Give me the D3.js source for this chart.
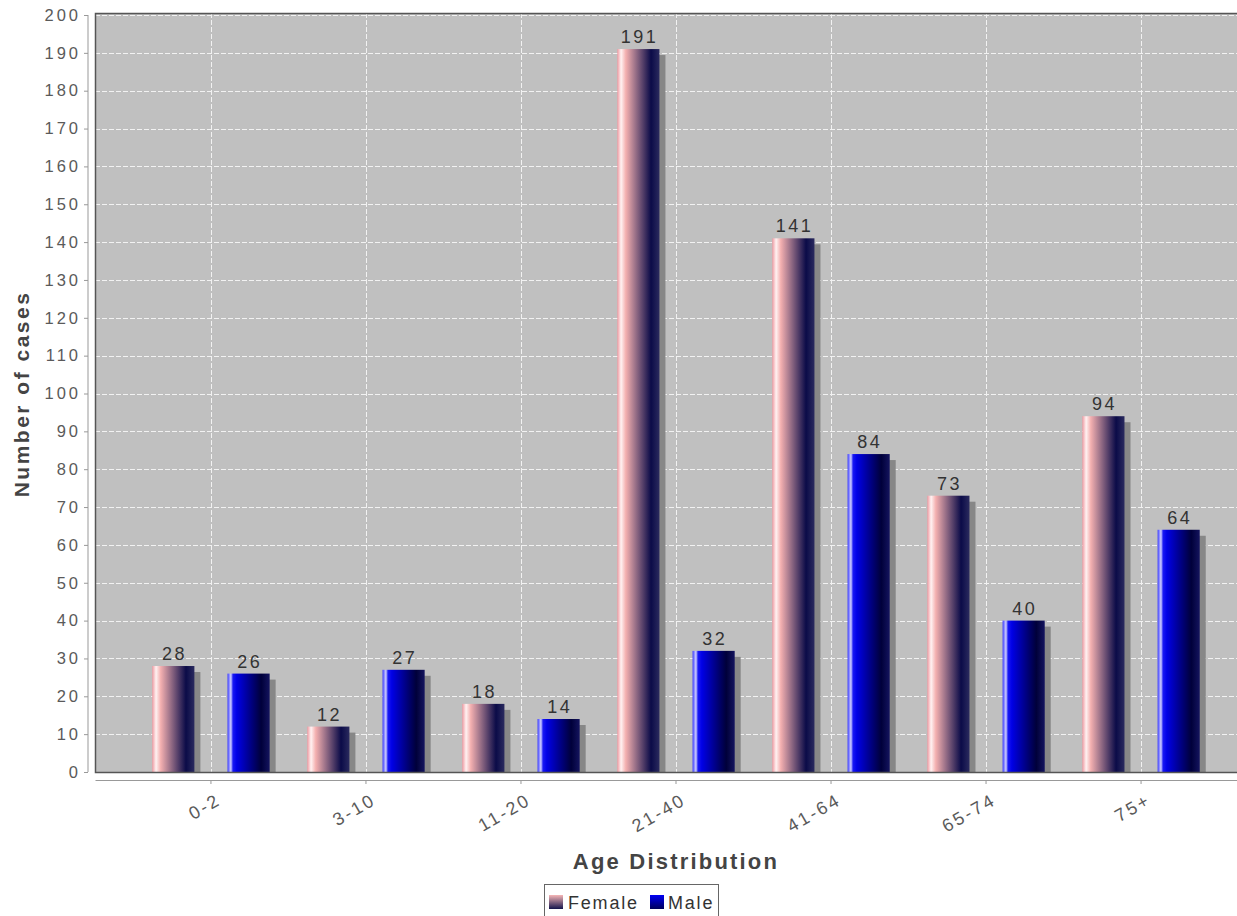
<!DOCTYPE html>
<html>
<head>
<meta charset="utf-8">
<script src="https://cdn.jsdelivr.net/npm/d3@7/dist/d3.min.js"></script>
<style>
  html, body { margin: 0; padding: 0; background: #ffffff; }
  svg { display: block; font-family: "Liberation Sans", Arial, sans-serif; }
</style>
</head>
<body>
<svg id="chart" width="1237" height="916"></svg>
<script>
// Age groups on the category axis
const categories = ["0-2", "3-10", "11-20", "21-40", "41-64", "65-74", "75+"];
// Cases per age group
const female = [28, 12, 18, 191, 141, 73, 94];
const male = [26, 27, 14, 32, 84, 40, 64];
const seriesNames = ["Female", "Male"];
// Value axis ticks
const yTicks = [0, 10, 20, 30, 40, 50, 60, 70, 80, 90, 100, 110, 120, 130, 140, 150, 160, 170, 180, 190, 200];

const svg = d3.select("#chart");

const plot = { left: 95, top: 13, right: 1257, bottom: 772 };

const x = d3.scaleBand()
  .domain(categories)
  .range([plot.left, plot.right])
  .paddingInner(0)
  .paddingOuter(0.248);

const xSub = d3.scaleBand()
  .domain(seriesNames)
  .range([0, x.bandwidth()])
  .paddingInner(0.44)
  .paddingOuter(0.25);

const y = d3.scaleLinear().domain([0, 200]).range([plot.bottom, plot.top + 2]);

// Gradients for the bar faces (horizontal) and legend swatches (vertical)
const defs = svg.append("defs");
const gradients = {
  Female: [[0, "#f09aa2"], [0.09, "#fff2f2"], [0.2, "#f4b0b0"], [0.8, "#0b0b48"], [1, "#2a2a5e"]],
  Male: [[0, "#3a3aff"], [0.08, "#d0d0ff"], [0.13, "#1818f4"], [0.22, "#0000e6"], [0.8, "#00003a"], [1, "#14145e"]]
};
const swatchGradients = {
  Female: [[0, "#f6b6b6"], [1, "#14144c"]],
  Male: [[0, "#0000f4"], [1, "#00005a"]]
};
Object.entries(gradients).forEach(([name, stops]) => {
  const g = defs.append("linearGradient")
    .attr("id", "grad-" + name)
    .attr("x1", "0%").attr("x2", "100%").attr("y1", "0%").attr("y2", "0%");
  stops.forEach(([o, c]) => g.append("stop").attr("offset", o * 100 + "%").attr("stop-color", c));
});
Object.entries(swatchGradients).forEach(([name, stops]) => {
  const g = defs.append("linearGradient")
    .attr("id", "swatch-" + name)
    .attr("x1", "0%").attr("x2", "0%").attr("y1", "0%").attr("y2", "100%");
  stops.forEach(([o, c]) => g.append("stop").attr("offset", o * 100 + "%").attr("stop-color", c));
});
const clip = defs.append("clipPath").attr("id", "plot-clip");
clip.append("rect").attr("x", plot.left).attr("y", plot.top)
  .attr("width", plot.right - plot.left).attr("height", plot.bottom - plot.top);

// Plot background
svg.append("rect")
  .attr("x", plot.left).attr("y", plot.top)
  .attr("width", plot.right - plot.left).attr("height", plot.bottom - plot.top)
  .attr("fill", "#c0c0c0");

// Grid lines
const grid = svg.append("g").attr("clip-path", "url(#plot-clip)");
grid.selectAll("line.h").data(yTicks.filter(d => d > 0)).join("line")
  .attr("class", "h")
  .attr("x1", plot.left).attr("x2", plot.right)
  .attr("y1", d => Math.round(y(d)) + 0.5).attr("y2", d => Math.round(y(d)) + 0.5)
  .attr("stroke", "#f2f2f2").attr("stroke-width", 1).attr("stroke-dasharray", "5,2");
grid.selectAll("line.v").data(categories).join("line")
  .attr("class", "v")
  .attr("x1", d => Math.round(x(d) + x.bandwidth() / 2) + 0.5)
  .attr("x2", d => Math.round(x(d) + x.bandwidth() / 2) + 0.5)
  .attr("y1", plot.top).attr("y2", plot.bottom)
  .attr("stroke", "#f2f2f2").attr("stroke-width", 1).attr("stroke-dasharray", "5,2");

// Bars
const rows = categories.map((c, i) => ({ cat: c, values: [
  { series: "Female", value: female[i] },
  { series: "Male", value: male[i] }
]}));

const groups = svg.append("g").attr("clip-path", "url(#plot-clip)")
  .selectAll("g.cat").data(rows).join("g")
  .attr("transform", d => `translate(${x(d.cat)},0)`);

// Drop shadows
groups.selectAll("rect.shadow").data(d => d.values).join("rect")
  .attr("class", "shadow")
  .attr("x", d => xSub(d.series) + 6)
  .attr("y", d => y(d.value) + 6)
  .attr("width", xSub.bandwidth())
  .attr("height", d => plot.bottom - y(d.value) - 6)
  .attr("fill", "#878787");

groups.selectAll("rect.bar").data(d => d.values).join("rect")
  .attr("class", "bar")
  .attr("x", d => xSub(d.series))
  .attr("y", d => y(d.value))
  .attr("width", xSub.bandwidth())
  .attr("height", d => plot.bottom - y(d.value))
  .attr("fill", d => `url(#grad-${d.series})`);

// Value labels
groups.selectAll("text.val").data(d => d.values).join("text")
  .attr("class", "val")
  .attr("x", d => xSub(d.series) + xSub.bandwidth() / 2 + 1.2)
  .attr("y", d => y(d.value) - 6)
  .attr("text-anchor", "middle")
  .attr("font-size", 18)
  .attr("letter-spacing", 2.5)
  .attr("fill", "#333")
  .text(d => d.value);

// Plot border
svg.append("path")
  .attr("d", `M${plot.right},${plot.top + 0.5}H${plot.left + 0.5}V${plot.bottom + 0.5}H${plot.right}`)
  .attr("fill", "none").attr("stroke", "#555").attr("stroke-width", 1.5);

// Y axis
const yAxis = d3.axisLeft(y).tickValues(yTicks).tickSize(4).tickPadding(3);
const yg = svg.append("g").attr("transform", "translate(88,0)").call(yAxis);
yg.select(".domain").attr("stroke", "#999").attr("d", `M-0,${plot.top + 2}V${plot.bottom}`);
yg.selectAll(".tick line").attr("stroke", "#999");
yg.selectAll(".tick text").attr("font-size", 16.5).attr("fill", "#5a5a5a")
  .attr("letter-spacing", 3).attr("font-family", "Liberation Sans, Arial, sans-serif");

// X axis
const xAxis = d3.axisBottom(x).tickSize(4).tickSizeOuter(0).tickFormat(() => "");
const xg = svg.append("g").attr("transform", "translate(0,780)").call(xAxis);
xg.select(".domain").attr("stroke", "#999");
xg.selectAll(".tick line").attr("stroke", "#999");

svg.append("g").selectAll("text.cat").data(categories).join("text")
  .attr("class", "cat")
  .attr("transform", d => `translate(${x(d) + x.bandwidth() / 2 + 4},791) rotate(-30)`)
  .attr("dy", "0.8em")
  .attr("text-anchor", "end")
  .attr("font-size", 18)
  .attr("letter-spacing", 2.5)
  .attr("fill", "#5a5a5a")
  .text(d => d);

// Axis titles
svg.append("text")
  .attr("x", 676).attr("y", 869)
  .attr("text-anchor", "middle")
  .attr("font-size", 22).attr("font-weight", "bold")
  .attr("letter-spacing", 2.2)
  .attr("fill", "#444")
  .text("Age Distribution");

svg.append("text")
  .attr("transform", "translate(29,394) rotate(-90)")
  .attr("text-anchor", "middle")
  .attr("font-size", 21).attr("font-weight", "bold")
  .attr("letter-spacing", 2.5)
  .attr("fill", "#444")
  .text("Number of cases");

// Legend
const legend = svg.append("g");
legend.append("rect")
  .attr("x", 544.5).attr("y", 884.5).attr("width", 174).attr("height", 32)
  .attr("fill", "#fff").attr("stroke", "#666").attr("stroke-width", 1);
const legendItems = [
  { name: "Female", sx: 549, tx: 568 },
  { name: "Male", sx: 650, tx: 668 }
];
legendItems.forEach(it => {
  legend.append("rect")
    .attr("x", it.sx).attr("y", 895).attr("width", 14).attr("height", 14)
    .attr("fill", `url(#swatch-${it.name})`);
  legend.append("text")
    .attr("x", it.tx).attr("y", 909)
    .attr("font-size", 18).attr("letter-spacing", 1.8)
    .attr("fill", "#333")
    .text(it.name);
});
</script>
</body>
</html>
